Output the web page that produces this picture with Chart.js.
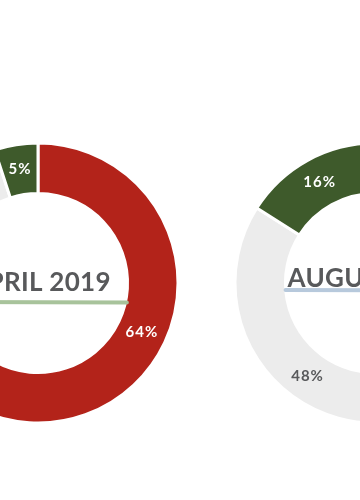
<!DOCTYPE html>
<html>
<head>
<meta charset="utf-8">
<script src="https://cdn.jsdelivr.net/npm/chart.js@4.4.0/dist/chart.umd.min.js"></script>
<style>
  body{margin:0;background:#fff;}
  .wrap{position:relative;width:360px;height:500px;overflow:hidden;background:#fff;}
  canvas{position:absolute;}
  #april{left:-112px;top:133px;}
  #august{left:225px;top:133px;}
</style>
</head>
<body>
<div class="wrap">
  <canvas id="april" width="300" height="300"></canvas>
  <canvas id="august" width="300" height="300"></canvas>
</div>
<script>
// segment order runs clockwise from 12 o'clock
const aprilLabels=['Red','Grey','Green'];
const aprilValues=[64,31,5];
const aprilColors=['#b3231a','#ececec','#3e5a2b'];

const augustLabels=['Red','Grey','Green'];
const augustValues=[36,48,16];
const augustColors=['#b3231a','#ececec','#3e5a2b'];

// white text on the dark slices, grey on the light one
const labelColor=c=>c==='#ececec'?'#58595b':'#ffffff';

const ringLabels={
  id:'ringLabels',
  afterDatasetsDraw(chart){
    const ctx=chart.ctx;
    const meta=chart.getDatasetMeta(0);
    const ds=chart.data.datasets[0];
    ctx.save();
    ctx.font='bold 15px Lato';
    ctx.letterSpacing='1px';
    ctx.textAlign='center';
    ctx.textBaseline='middle';
    meta.data.forEach((arc,i)=>{
      const p=arc.tooltipPosition();
      ctx.fillStyle=labelColor(ds.backgroundColor[i]);
      ctx.fillText(ds.data[i]+'%',p.x,p.y);
    });
    // month in the hole plus the brush underline
    const o=chart.options.plugins.ringLabels;
    const cx=meta.data[0].x, cy=meta.data[0].y;
    ctx.font='bold 26px Lato';
    ctx.letterSpacing='0.3px';
    ctx.fillStyle='#58595b';
    ctx.fillText(o.title,cx+o.textDx,cy+o.textDy);
    const w=ctx.measureText(o.title).width;
    ctx.strokeStyle=o.lineColor;
    ctx.lineWidth=4;
    ctx.lineCap='round';
    ctx.beginPath();
    ctx.moveTo(cx+o.textDx-w/2-o.lineExtra,cy+o.lineDy);
    ctx.lineTo(cx+o.textDx+w/2+o.lineExtra,cy+o.lineDy+0.5);
    ctx.stroke();
    ctx.restore();
  }
};

const makeRing=(id,labels,values,colors,title,lineColor,textDx,textDy,lineDy,lineExtra)=>{
  new Chart(document.getElementById(id),{
    type:'doughnut',
    data:{
      labels:labels,
      datasets:[{
        data:values,
        backgroundColor:colors,
        borderColor:'#ffffff',
        borderWidth:3
      }]
    },
    options:{
      responsive:false,
      animation:false,
      radius:140,
      cutout:95,
      plugins:{
        legend:{display:false},
        tooltip:{enabled:false},
        ringLabels:{title:title,lineColor:lineColor,textDx:textDx,textDy:textDy,lineDy:lineDy,lineExtra:lineExtra}
      }
    },
    plugins:[ringLabels]
  });
};

makeRing('april',aprilLabels,aprilValues,aprilColors,'APRIL 2019','#a8c39b',2,0,19,16);
makeRing('august',augustLabels,augustValues,augustColors,'AUGUST 2019','#b7c9dc',0,-4,7,2);
</script>
</body>
</html>
